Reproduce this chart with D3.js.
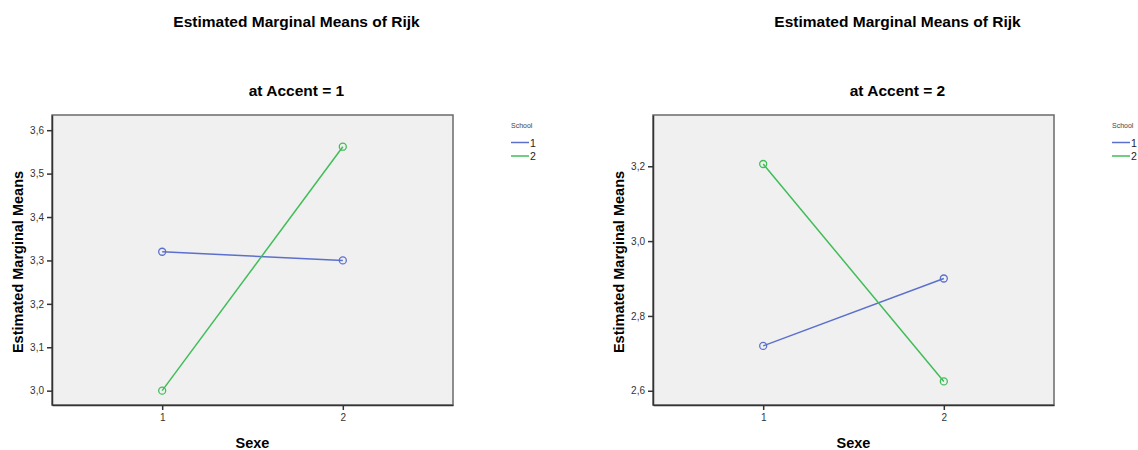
<!DOCTYPE html>
<html lang="en">
  <head>
    <meta charset="utf-8" />
    <title>Estimated Marginal Means of Rijk</title>
    <script src="https://d3js.org/d3.v7.min.js"></script>
    <style type="text/css">
      body { margin: 0; background: #fff; }
      text { font-family: "Liberation Sans", Arial, sans-serif; }
    </style>
  </head>
  <body>
    <script type="text/javascript">
      // categories
      const sexe = [1, 2];
      const schools = ["1", "2"];

      // values, one array per school and accent
      const accent1School1 = [3.32, 3.30];
      const accent1School2 = [3.00, 3.562];
      const accent2School1 = [2.72, 2.90];
      const accent2School2 = [3.206, 2.625];

      // tick labels
      const yTicksAccent1 = [3.0, 3.1, 3.2, 3.3, 3.4, 3.5, 3.6];
      const yTicksAccent2 = [2.6, 2.8, 3.0, 3.2];

      const colors = ["#5b70cc", "#40bd58"];

      //Width and height
      const w = 1138;
      const h = 450;

      let svg = d3.select("body").append("svg")
        .attr("width", w)
        .attr("height", h);

      const fmt = function (d) {
        return d3.format(".1f")(d).replace(".", ",");
      };

      function drawPanel(left, accent, series, yDomain, yTicks) {
        const fw = 401, top = 115, fh = 290;
        const g = svg.append("g");

        const xScale = d3.scaleLinear().domain([0.39, 2.61]).range([left, left + fw]);
        const yScale = d3.scaleLinear().domain(yDomain).range([top + fh, top]);

        // titles
        g.append("text")
          .attr("x", left + fw / 2 + 44)
          .attr("y", 27)
          .attr("text-anchor", "middle")
          .style("font-size", "15.5px")
          .style("font-weight", "bold")
          .text("Estimated Marginal Means of Rijk");
        g.append("text")
          .attr("x", left + fw / 2 + 44)
          .attr("y", 96)
          .attr("text-anchor", "middle")
          .style("font-size", "15.5px")
          .style("font-weight", "bold")
          .text("at Accent = " + accent);

        // plot area
        g.append("rect")
          .attr("x", left)
          .attr("y", top)
          .attr("width", fw)
          .attr("height", fh)
          .attr("fill", "#f0f0f0")
          .attr("stroke", "#6a6a6a")
          .attr("stroke-width", 1.5);

        // axes
        const yAxis = d3.axisLeft(yScale).tickValues(yTicks).tickFormat(fmt)
          .tickSizeInner(5).tickSizeOuter(0).tickPadding(3);
        const ya = g.append("g").attr("transform", "translate(" + left + ",0)").call(yAxis);

        const xAxis = d3.axisBottom(xScale).tickValues(sexe).tickFormat(d3.format("d"))
          .tickSizeInner(5).tickSizeOuter(0).tickPadding(4);
        const xa = g.append("g").attr("transform", "translate(0," + (top + fh) + ")").call(xAxis);

        [ya, xa].forEach(function (a) {
          a.select(".domain").attr("stroke", "#333").attr("stroke-width", 1.5);
          a.selectAll(".tick line").attr("stroke", "#333").attr("stroke-width", 1.5);
          a.selectAll(".tick text")
            .attr("fill", "#333")
            .style("font-size", "10px")
            .style("font-family", "'Liberation Sans', Arial, sans-serif");
        });

        // axis labels
        g.append("text")
          .attr("x", xScale(1.5))
          .attr("y", 448)
          .attr("text-anchor", "middle")
          .style("font-size", "14.5px")
          .style("font-weight", "bold")
          .text("Sexe");
        g.append("text")
          .attr("transform", "translate(" + (left - 29) + "," + (top + fh / 2 + 2) + ") rotate(-90)")
          .attr("text-anchor", "middle")
          .style("font-size", "14.5px")
          .style("font-weight", "bold")
          .text("Estimated Marginal Means");

        // lines + markers
        const line = d3.line()
          .x(function (d, i) { return xScale(sexe[i]); })
          .y(function (d) { return yScale(d); });

        series.forEach(function (vals, s) {
          g.append("path")
            .datum(vals)
            .attr("d", line)
            .attr("fill", "none")
            .attr("stroke", colors[s])
            .attr("stroke-width", 1.5);
          g.selectAll(".pt" + s)
            .data(vals)
            .enter()
            .append("circle")
            .attr("cx", function (d, i) { return xScale(sexe[i]); })
            .attr("cy", function (d) { return yScale(d); })
            .attr("r", 3.5)
            .attr("fill", "none")
            .attr("stroke", colors[s])
            .attr("stroke-width", 1.3);
        });

        // legend
        const lx = left + fw + 58;
        g.append("text")
          .attr("x", lx)
          .attr("y", 128)
          .attr("fill", "#444")
          .style("font-size", "7px")
          .text("School");
        schools.forEach(function (s, i) {
          const ly = 142.5 + i * 13.5;
          g.append("line")
            .attr("x1", lx)
            .attr("x2", lx + 18)
            .attr("y1", ly)
            .attr("y2", ly)
            .attr("stroke", colors[i])
            .attr("stroke-width", 1.5);
          g.append("text")
            .attr("x", lx + 19)
            .attr("y", ly + 4)
            .attr("fill", "#222")
            .style("font-size", "10.5px")
            .text(s);
        });
      }

      drawPanel(52, 1, [accent1School1, accent1School2], [2.967, 3.635], yTicksAccent1);
      drawPanel(653, 2, [accent2School1, accent2School2], [2.562, 3.337], yTicksAccent2);
    </script>
  </body>
</html>
